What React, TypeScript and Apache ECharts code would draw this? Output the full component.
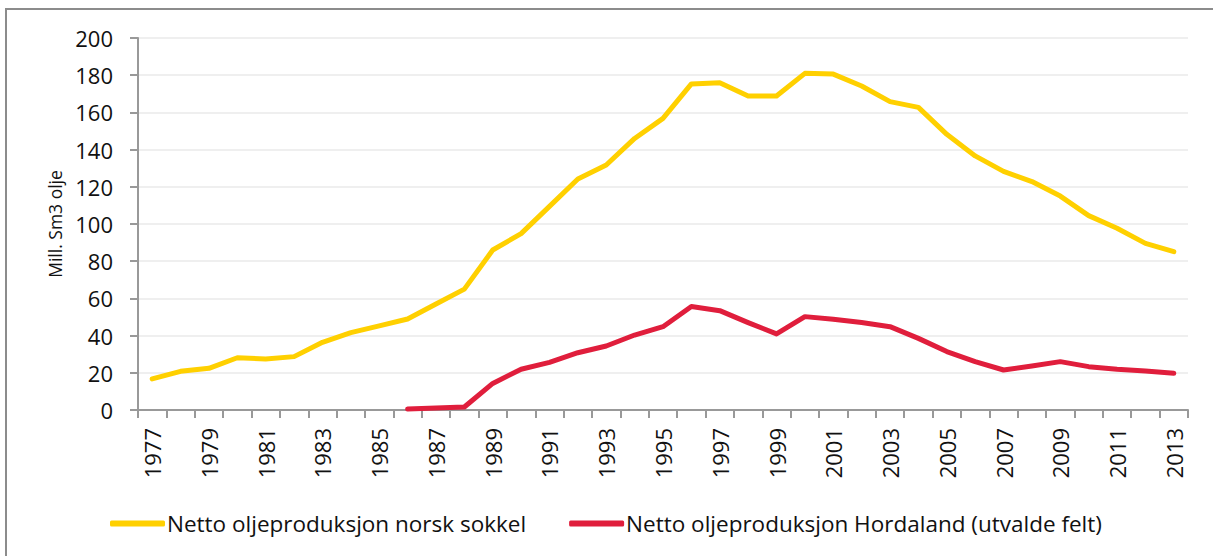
import React, { useEffect, useRef } from "react";
import * as echarts from "echarts";

const years: string[] = [];
for (let y = 1977; y <= 2013; y++) years.push(String(y));

const norskSokkel = [
  16.7, 20.8, 22.4, 28.1, 27.4, 28.7, 36.4, 41.6, 45.2, 48.9, 57.0, 65.0, 86.0, 94.8,
  109.5, 124.2, 131.7, 146.0, 156.8, 175.3, 176.0, 168.8, 168.8, 181.0, 180.6, 174.2,
  165.8, 162.7, 148.2, 136.6, 128.3, 122.8, 115.0, 104.5, 97.7, 89.6, 85.1,
];

const hordaland: (number | null)[] = [
  null, null, null, null, null, null, null, null, null,
  0.5, 1.1, 1.6, 14.3, 21.9, 25.6, 30.8, 34.4, 40.3, 44.8, 55.6, 53.4, 47.0, 40.9,
  50.2, 48.8, 47.0, 44.8, 38.5, 31.4, 26.0, 21.5, 23.7, 26.0, 23.3, 21.9, 21.0, 19.7,
];

const yTicks = { min: 0, max: 200, interval: 20 };
const seriesNames = [
  "Netto oljeproduksjon norsk sokkel",
  "Netto oljeproduksjon Hordaland (utvalde felt)",
];
const yAxisName = "Mill. Sm3 olje";

export default function App() {
  const ref = useRef<HTMLDivElement>(null);
  useEffect(() => {
    if (!ref.current) return;
    const chart = echarts.init(ref.current, undefined, { renderer: "svg" });
    const font = "'Open Sans', 'Noto Sans', sans-serif";
    chart.setOption({
      animation: false,
      backgroundColor: "#ffffff",
      textStyle: { fontFamily: font },
      graphic: [
        {
          type: "rect",
          shape: { x: 6, y: 9, width: 1400, height: 700 },
          style: { fill: "none", stroke: "#8c8c8c", lineWidth: 2 },
          silent: true,
        },
      ],
      grid: { left: 138, right: 25, top: 38, bottom: 146, containLabel: false },
      legend: {
        left: 105,
        top: 507,
        itemWidth: 55,
        itemHeight: 6,
        itemGap: 43,
        icon: "roundRect",
        textStyle: { fontSize: 22.5, color: "#111111", fontFamily: font, padding: [0, 0, 0, -3] },
        data: seriesNames,
      },
      xAxis: {
        type: "category",
        data: years,
        boundaryGap: true,
        axisLine: { lineStyle: { color: "#999999", width: 2 } },
        axisTick: { show: true, interval: 0, length: 8, lineStyle: { color: "#999999", width: 2 } },
        axisLabel: {
          interval: 1,
          rotate: 90,
          margin: 18,
          fontSize: 22,
          color: "#111111",
          fontFamily: font,
        },
        splitLine: { show: false },
      },
      yAxis: {
        type: "value",
        min: yTicks.min,
        max: yTicks.max,
        interval: yTicks.interval,
        name: yAxisName,
        nameLocation: "middle",
        nameGap: 72,
        nameRotate: 90,
        nameTextStyle: { fontSize: 17.5, color: "#111111", fontFamily: font },
        axisLine: { show: true, lineStyle: { color: "#999999", width: 2 } },
        axisTick: { show: true, length: 8, lineStyle: { color: "#999999", width: 2 } },
        axisLabel: { fontSize: 22, color: "#111111", margin: 25, fontFamily: font },
        splitLine: { show: true, lineStyle: { color: "#efefef", width: 2 } },
      },
      series: [
        {
          name: seriesNames[0],
          type: "line",
          data: norskSokkel,
          symbol: "none",
          lineStyle: { color: "#FFD000", width: 5, cap: "round", join: "round" },
          itemStyle: { color: "#FFD000" },
        },
        {
          name: seriesNames[1],
          type: "line",
          data: hordaland,
          symbol: "none",
          connectNulls: false,
          lineStyle: { color: "#E01E3C", width: 5, cap: "round", join: "round" },
          itemStyle: { color: "#E01E3C" },
        },
      ],
    });
    return () => chart.dispose();
  }, []);
  return <div ref={ref} style={{ width: 1213, height: 556, position: "absolute", left: 0, top: 0 }} />;
}
